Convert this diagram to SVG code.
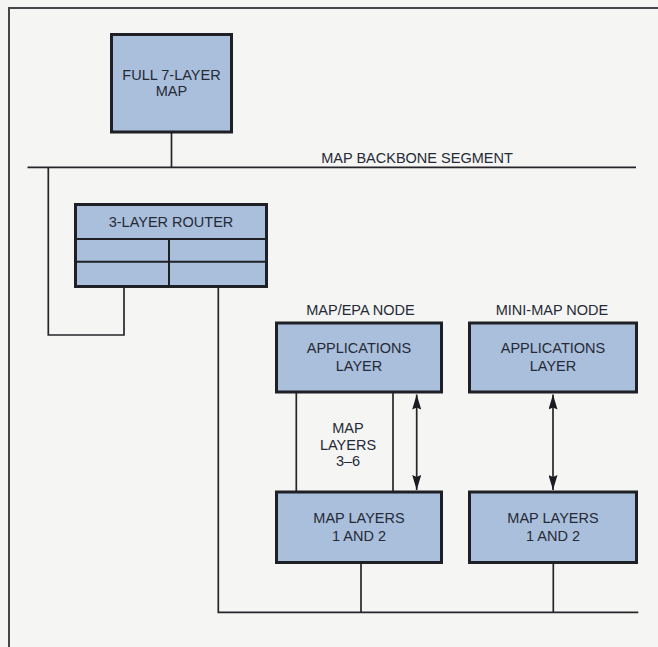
<svg xmlns="http://www.w3.org/2000/svg" width="658" height="647" viewBox="0 0 658 647">
<defs>
<style>
.bg{fill:#f5f5f3}
.box{fill:#a9bfdc;stroke:#1e2026;stroke-width:3}
.div{stroke:#1e2026;stroke-width:2;fill:none}
.ln{stroke:#26262a;stroke-width:1.7;fill:none}
.frame{stroke:#45454a;stroke-width:2;fill:none}
text{font-family:"Liberation Sans",Arial,Helvetica,sans-serif;font-size:14.5px;fill:#262a36;text-anchor:middle}
</style>
<marker id="ah" viewBox="0 0 15 9" refX="15" refY="4.5" markerWidth="15" markerHeight="9" markerUnits="userSpaceOnUse" orient="auto-start-reverse">
<path d="M0,0 L15,4.5 L0,9 L2,4.5 Z" fill="#1a1b20"/>
</marker>
</defs>
<rect class="bg" x="0" y="0" width="658" height="647"/>
<path class="frame" d="M9,647 L9,8 L658,8"/>

<g id="connectors">
<line class="ln" x1="27.5" y1="167.3" x2="636" y2="167.3"/>
<line class="ln" x1="171.5" y1="133" x2="171.5" y2="167.3"/>
<path class="ln" d="M48.3,167.3 L48.3,335 L124,335 L124,287"/>
<path class="ln" d="M218.3,287 L218.3,612.3 L638.3,612.3"/>
<line class="ln" x1="296.3" y1="393" x2="296.3" y2="491"/>
<line class="ln" x1="393" y1="393" x2="393" y2="491"/>
<line class="ln" x1="416.7" y1="394.5" x2="416.7" y2="490" marker-start="url(#ah)" marker-end="url(#ah)"/>
<line class="ln" x1="553" y1="394.5" x2="553" y2="490" marker-start="url(#ah)" marker-end="url(#ah)"/>
<line class="ln" x1="361" y1="564" x2="361" y2="612.3"/>
<line class="ln" x1="553.3" y1="564" x2="553.3" y2="612.3"/>
<text x="417" y="163">MAP BACKBONE SEGMENT</text>
<text x="348" y="433">MAP</text>
<text x="348" y="450">LAYERS</text>
<text x="348" y="466">3–6</text>
</g>

<g id="full-map">
<rect class="box" x="111.5" y="34.5" width="120" height="97.5"/>
<text x="171.5" y="80">FULL 7-LAYER</text>
<text x="171.5" y="96">MAP</text>
</g>

<g id="router">
<rect class="box" x="75.5" y="204.5" width="191" height="82"/>
<line class="div" x1="75.5" y1="239" x2="266.5" y2="239"/>
<line class="div" x1="75.5" y1="261.7" x2="266.5" y2="261.7"/>
<line class="div" x1="169" y1="239" x2="169" y2="286.5"/>
<text x="171" y="227">3-LAYER ROUTER</text>
</g>

<g id="epa-apps">
<text x="360.5" y="315">MAP/EPA NODE</text>
<rect class="box" x="276.5" y="323" width="165" height="69"/>
<text x="359" y="352.5">APPLICATIONS</text>
<text x="359" y="370.5">LAYER</text>
</g>

<g id="mini-apps">
<text x="552" y="315">MINI-MAP NODE</text>
<rect class="box" x="469.5" y="323" width="167" height="69"/>
<text x="553" y="352.5">APPLICATIONS</text>
<text x="553" y="370.5">LAYER</text>
</g>

<g id="epa-layers">
<rect class="box" x="276.5" y="492" width="165" height="70.5"/>
<text x="359" y="522.5">MAP LAYERS</text>
<text x="359" y="540.5">1 AND 2</text>
</g>

<g id="mini-layers">
<rect class="box" x="469.5" y="492" width="167" height="70.5"/>
<text x="553" y="522.5">MAP LAYERS</text>
<text x="553" y="540.5">1 AND 2</text>
</g>
</svg>
